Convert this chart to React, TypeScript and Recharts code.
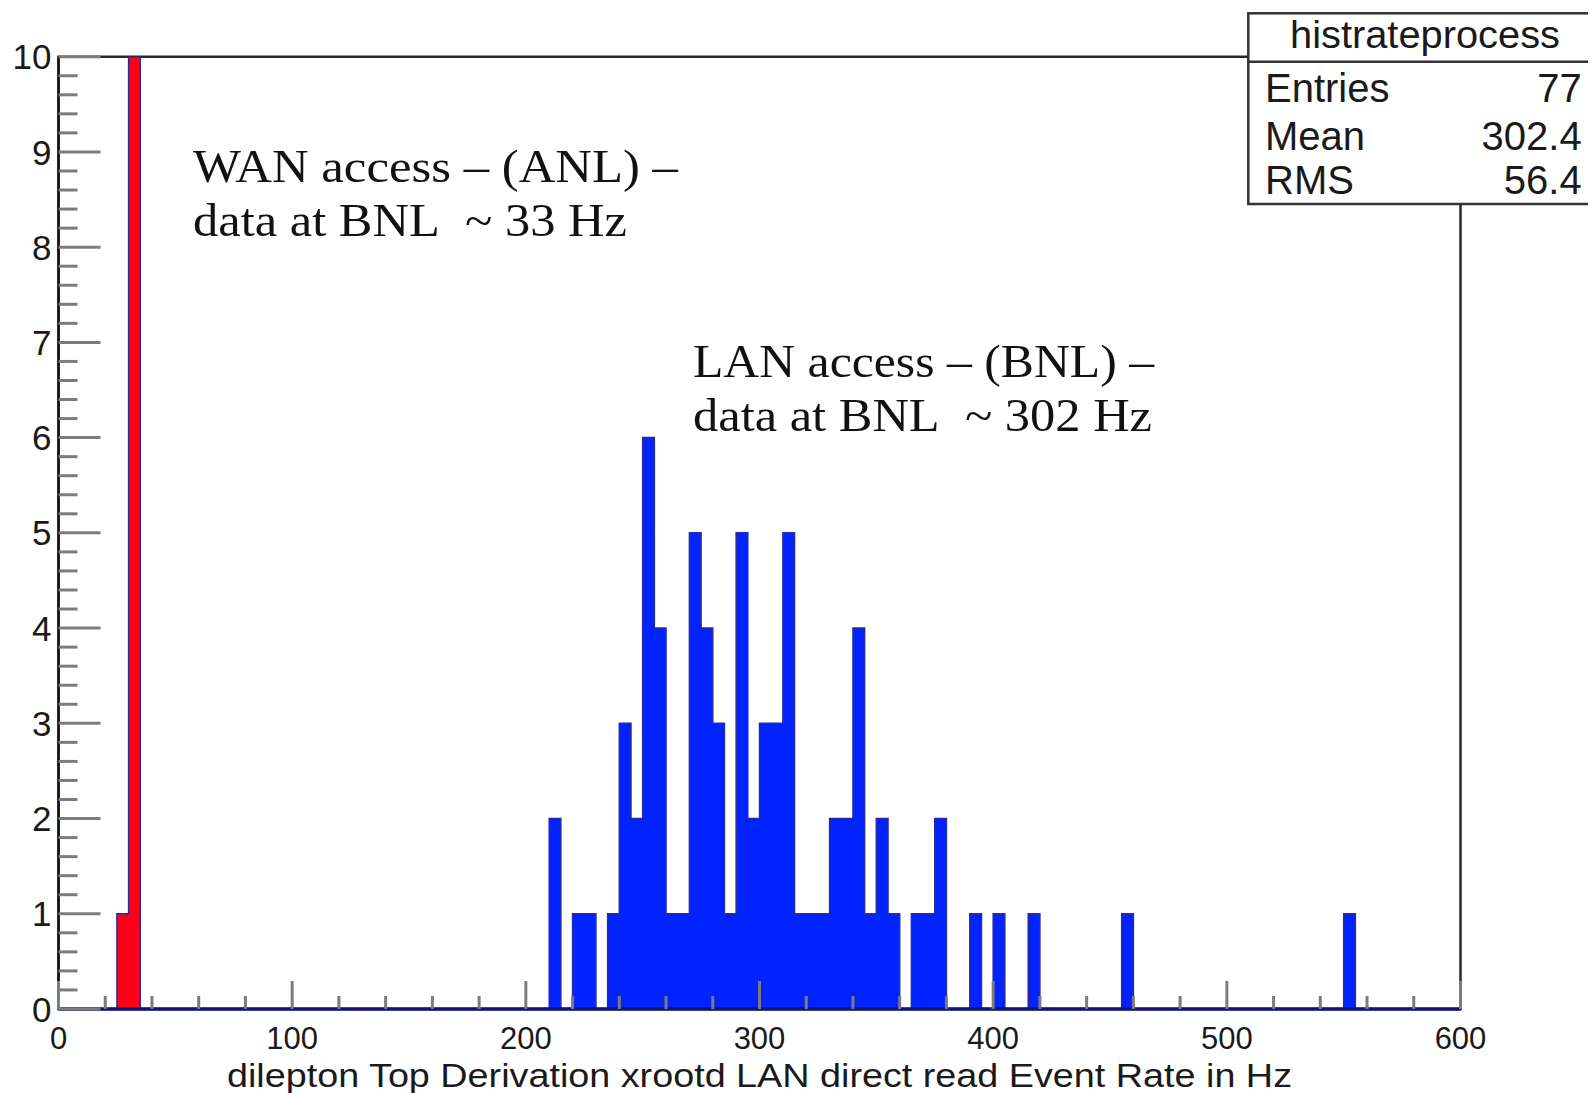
import React from 'react';
import { ComposedChart, Area, XAxis, YAxis, ReferenceArea } from 'recharts';

// ---------- data ----------
const binWidth = 5; // Hz
const blueBins = [210, 220, 225, 235, 240, 245, 250, 255, 260, 265, 270, 275, 280, 285, 290, 295, 300, 305, 310,
  315, 320, 325, 330, 335, 340, 345, 350, 355, 365, 370, 375, 390, 400, 415, 455, 550];
const blueCounts = [2, 1, 1, 1, 3, 2, 6, 4, 1, 1, 5, 4, 3, 1, 5, 2, 3, 3, 5,
  1, 1, 1, 2, 2, 4, 1, 2, 1, 1, 1, 2, 1, 1, 1, 1, 1];
const redBins = [25, 30];
const redCounts = [1, 10];

const xMajorTicks = [0, 100, 200, 300, 400, 500, 600];
const yMajorTicks = [0, 1, 2, 3, 4, 5, 6, 7, 8, 9, 10];

const statsTitle = 'histrateprocess';
const statsLabels = ['Entries', 'Mean', 'RMS'];
const statsValues = ['77', '302.4', '56.4'];

const xTitle = 'dilepton Top Derivation xrootd LAN direct read Event Rate in Hz';
const wanLines = ['WAN access \u2013 (ANL) \u2013', 'data at BNL\u00a0 ~ 33 Hz'];
const lanLines = ['LAN access \u2013 (BNL) \u2013', 'data at BNL\u00a0 ~ 302 Hz'];

// ---------- table ----------
const X_MIN = 0, X_MAX = 600;
const rows: { x: number; blue: number; red: number }[] = [];
for (let e = X_MIN; e <= X_MAX; e += binWidth) {
  const bi = blueBins.indexOf(e);
  const ri = redBins.indexOf(e);
  rows.push({ x: e, blue: bi >= 0 ? blueCounts[bi] : 0, red: ri >= 0 ? redCounts[ri] : 0 });
}

const xTicks: number[] = [];
xMajorTicks.forEach((m, i) => {
  xTicks.push(m);
  if (i < xMajorTicks.length - 1) for (let k = 1; k < 5; k++) xTicks.push(m + (k * (xMajorTicks[i + 1] - m)) / 5);
});
const yTicks: number[] = [];
yMajorTicks.forEach((m, i) => {
  yTicks.push(m);
  if (i < yMajorTicks.length - 1) for (let k = 1; k < 5; k++) yTicks.push(m + k / 5);
});

// ---------- layout ----------
const W = 1588, H = 1085;
const PLOT_LEFT = 50.5, PLOT_TOP = 48.7, PLOT_RIGHT = 1452.5, PLOT_BOTTOM = 1001;
const SANS = '"Liberation Sans", Arial, Helvetica, sans-serif';
const SERIF = '"Liberation Serif", "Times New Roman", serif';
const TICK_COLOR = '#7c7c7c';

const YTick = (props: any) => {
  const { x, y, payload } = props;
  const v = payload.value as number;
  const major = Math.abs(v - Math.round(v)) < 1e-6;
  return (
    <g>
      <line x1={x} x2={x + (major ? 42 : 19)} y1={y} y2={y} stroke={TICK_COLOR} strokeWidth={3} />
      {major && (
        <text x={x - 7} y={y} dy="0.36em" textAnchor="end" fontFamily={SANS} fontSize={35} fill="#1a1a1a">
          {Math.round(v)}
        </text>
      )}
    </g>
  );
};

const XTick = (props: any) => {
  const { x, y, payload } = props;
  const v = payload.value as number;
  const major = Math.abs(v % 100) < 1e-6;
  return (
    <g>
      <line x1={x} x2={x} y1={y} y2={y - (major ? 28 : 13)} stroke={TICK_COLOR} strokeWidth={3} />
      {major && (
        <text x={x} y={y + 40} textAnchor="middle" fontFamily={SANS} fontSize={31} fill="#1a1a1a">
          {v}
        </text>
      )}
    </g>
  );
};

export default function App() {
  return (
    <div style={{ position: 'relative', width: W, height: H, background: '#fff', overflow: 'hidden' }}>
      <ComposedChart
        width={W}
        height={H}
        data={rows}
        margin={{ top: PLOT_TOP, right: W - PLOT_RIGHT, bottom: 0, left: 0 }}
      >
        <ReferenceArea x1={X_MIN} x2={X_MAX} y1={0} y2={10} fill="none" stroke="#2a2a2a" strokeWidth={2.5} ifOverflow="visible" />
        <Area
          type="stepAfter"
          dataKey="blue"
          stroke="#2b2ba0"
          strokeWidth={1.5}
          fill="#0023ff"
          fillOpacity={1}
          isAnimationActive={false}
          dot={false}
          activeDot={false}
        />
        <Area
          type="stepAfter"
          dataKey="red"
          stroke="#2b2ba0"
          strokeWidth={1.5}
          fill="#ff0018"
          fillOpacity={1}
          isAnimationActive={false}
          dot={false}
          activeDot={false}
        />
        <XAxis
          type="number"
          dataKey="x"
          domain={[X_MIN, X_MAX]}
          ticks={xTicks}
          interval={0}
          tickSize={0}
          tickMargin={0}
          tickLine={false}
          tick={<XTick />}
          axisLine={{ stroke: '#12127a', strokeWidth: 3.5 }}
          height={H - PLOT_BOTTOM}
          allowDataOverflow
        />
        <YAxis
          type="number"
          domain={[0, 10]}
          ticks={yTicks}
          interval={0}
          tickSize={0}
          tickMargin={0}
          tickLine={false}
          tick={<YTick />}
          axisLine={{ stroke: '#141414', strokeWidth: 2.5 }}
          width={PLOT_LEFT}
          allowDataOverflow
        />
      </ComposedChart>
      <svg
        width={W}
        height={H}
        style={{ position: 'absolute', left: 0, top: 0, pointerEvents: 'none' }}
      >
        {/* annotations */}
        <text x={185} y={174} fontFamily={SERIF} fontSize={47} fill="#111" textLength={485} lengthAdjust="spacingAndGlyphs">
          {wanLines[0]}
        </text>
        <text x={185} y={228} fontFamily={SERIF} fontSize={47} fill="#111" textLength={434} lengthAdjust="spacingAndGlyphs">
          {wanLines[1]}
        </text>
        <text x={685} y={369} fontFamily={SERIF} fontSize={47} fill="#111" textLength={461} lengthAdjust="spacingAndGlyphs">
          {lanLines[0]}
        </text>
        <text x={685} y={423} fontFamily={SERIF} fontSize={47} fill="#111" textLength={459} lengthAdjust="spacingAndGlyphs">
          {lanLines[1]}
        </text>
        {/* x-axis title */}
        <text x={(PLOT_LEFT + PLOT_RIGHT) / 2} y={1079} textAnchor="middle" fontFamily={SANS} fontSize={34} fill="#1a1a1a" textLength={1065} lengthAdjust="spacingAndGlyphs">
          {xTitle}
        </text>
        {/* stats box */}
        <rect x={1240.3} y={5.3} width={400} height={190.7} fill="#fff" stroke="#333" strokeWidth={2.5} />
        <line x1={1240.3} x2={1640} y1={53.7} y2={53.7} stroke="#333" strokeWidth={2.5} />
        <text x={1417} y={40.3} textAnchor="middle" fontFamily={SANS} fontSize={38} fill="#1a1a1a" textLength={270} lengthAdjust="spacingAndGlyphs">
          {statsTitle}
        </text>
        {statsLabels.map((l, i) => (
          <text key={l} x={1257} y={[93.7, 142, 186][i]} fontFamily={SANS} fontSize={40} fill="#1a1a1a">
            {l}
          </text>
        ))}
        {statsValues.map((v, i) => (
          <text key={v} x={1573.7} y={[93.7, 142, 186][i]} textAnchor="end" fontFamily={SANS} fontSize={40} fill="#1a1a1a">
            {v}
          </text>
        ))}
      </svg>
    </div>
  );
}
